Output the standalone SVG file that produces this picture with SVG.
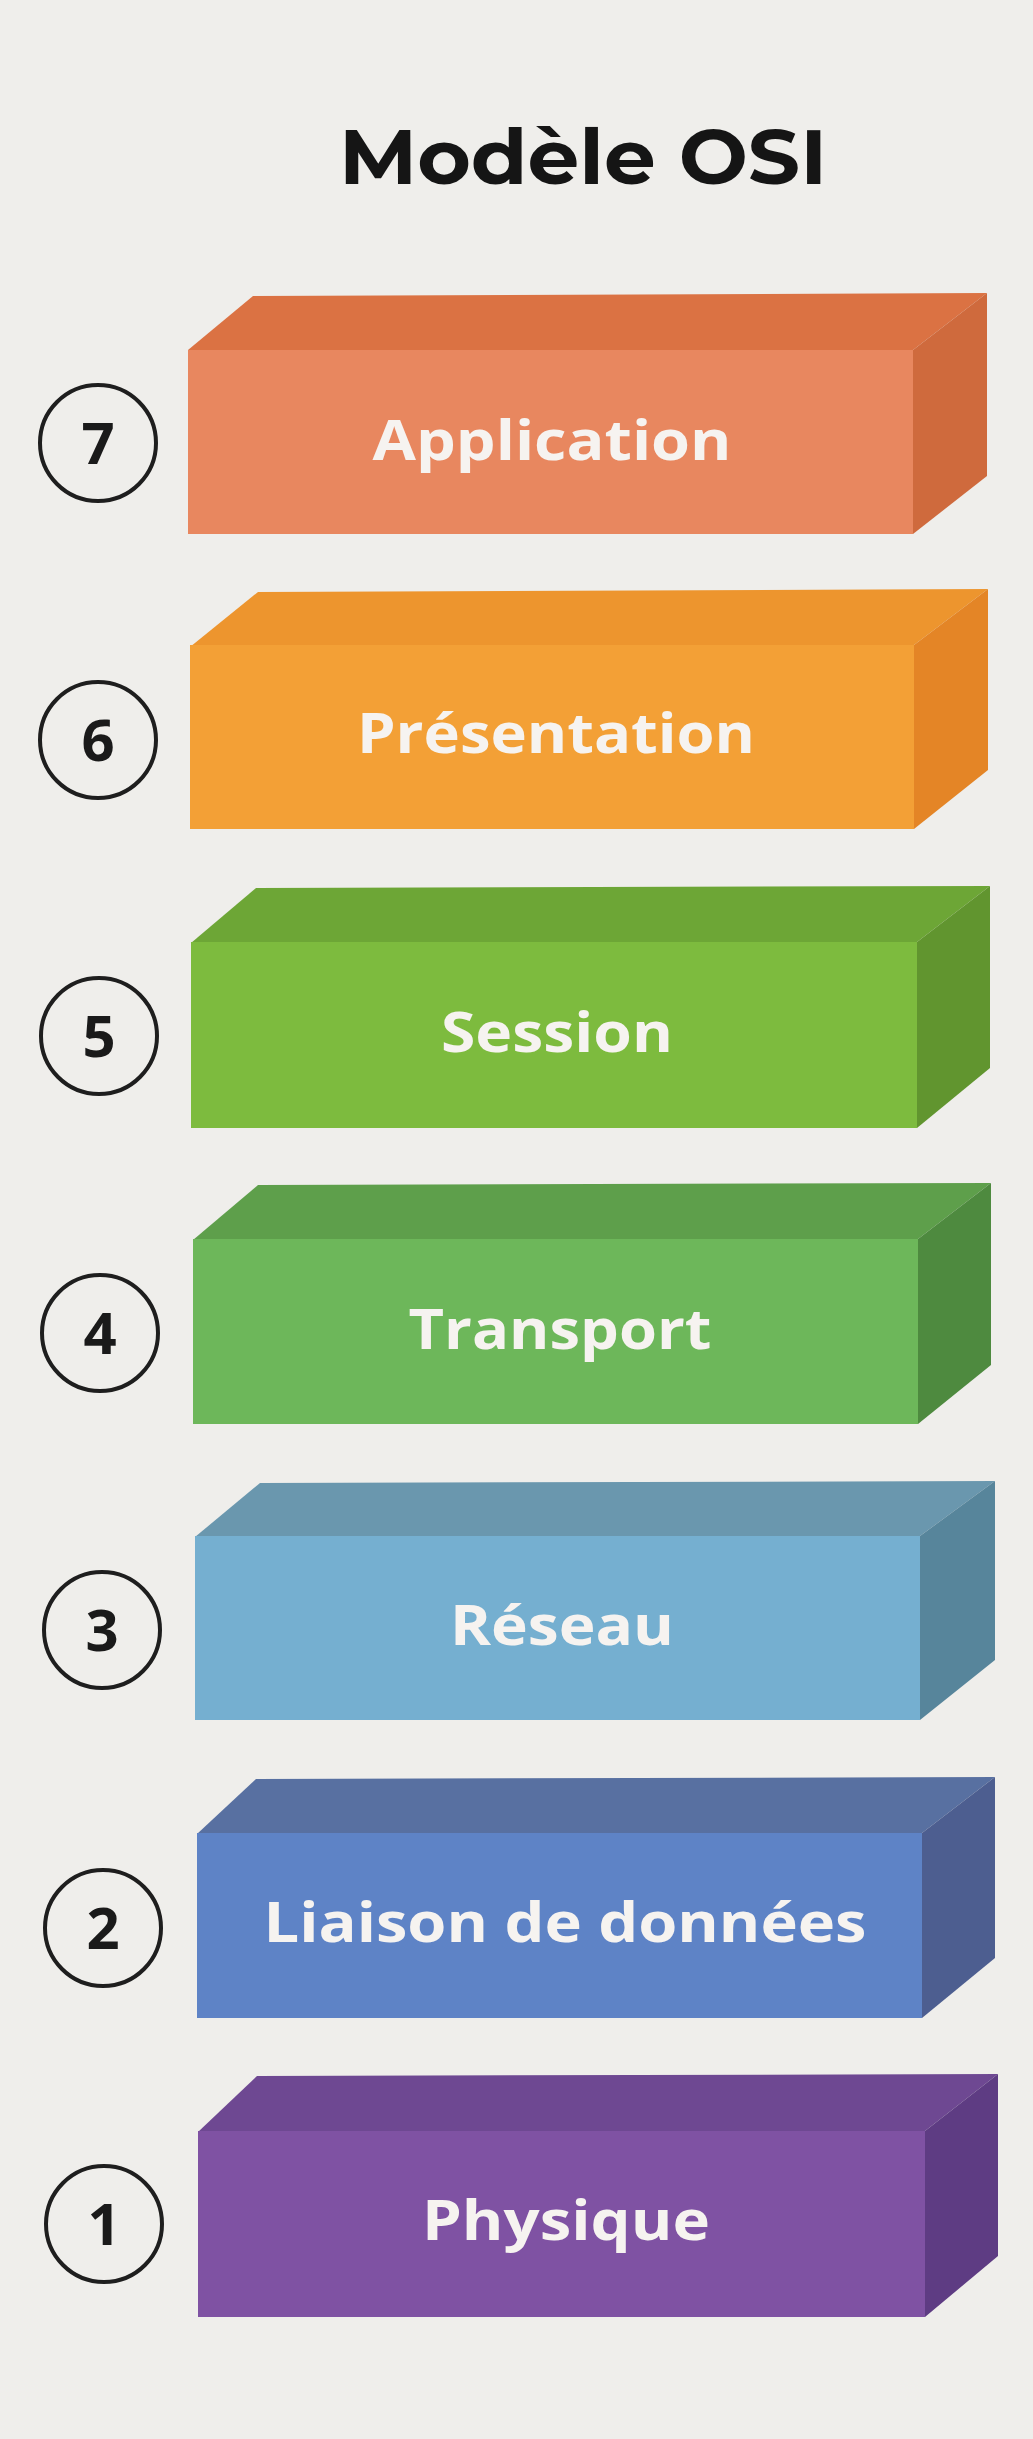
<svg xmlns="http://www.w3.org/2000/svg" width="1033" height="2439" viewBox="0 0 1033 2439">
<style>
.title{font-family:"Montserrat","Open Sans","Liberation Sans",sans-serif;font-weight:700;font-size:76px;fill:#151515;text-anchor:middle}
.lbl{font-family:"Open Sans","Liberation Sans",sans-serif;font-weight:700;font-size:56px;fill:#F6F3F0;text-anchor:middle}
.num{font-family:"Open Sans","Liberation Sans",sans-serif;font-weight:700;font-size:58px;fill:#1a1a1a;text-anchor:middle}
.ring{fill:none;stroke:#1e1e1e;stroke-width:4}
</style>
<rect width="1033" height="2439" fill="#EFEEEB"/>
<text class="title" x="583" y="184" textLength="488" lengthAdjust="spacingAndGlyphs">Modèle OSI</text>

<g id="layer7">
<polygon points="188,350 253,296 987,293 913,350" fill="#DB7243"/>
<polygon points="913,350 987,293 987,476 913,534" fill="#CF6A3D"/>
<rect x="188" y="350" width="725" height="184" fill="#E8875F"/>
<text class="lbl" x="552" y="460" textLength="359" lengthAdjust="spacingAndGlyphs">Application</text>
<circle class="ring" cx="98" cy="443" r="58"/>
<text class="num" x="98" y="464">7</text>
</g>

<g id="layer6">
<polygon points="190,647 258,592 988,589 914,645" fill="#ED952E"/>
<polygon points="914,645 988,589 988,770 914,829" fill="#E48526"/>
<rect x="190" y="645" width="724" height="184" fill="#F3A036"/>
<text class="lbl" x="556" y="753" textLength="398" lengthAdjust="spacingAndGlyphs">Présentation</text>
<circle class="ring" cx="98" cy="740" r="58"/>
<text class="num" x="98" y="761">6</text>
</g>

<g id="layer5">
<polygon points="191,943 256,888 990,886 917,942" fill="#6DA636"/>
<polygon points="917,942 990,886 990,1068 917,1128" fill="#61952F"/>
<rect x="191" y="942" width="726" height="186" fill="#7DBB3E"/>
<text class="lbl" x="557" y="1052" textLength="232" lengthAdjust="spacingAndGlyphs">Session</text>
<circle class="ring" cx="99" cy="1036" r="58"/>
<text class="num" x="99" y="1057">5</text>
</g>

<g id="layer4">
<polygon points="193,1240 258,1185 991,1183 918,1239" fill="#5E9F4B"/>
<polygon points="918,1239 991,1183 991,1365 918,1424" fill="#4E8A3F"/>
<rect x="193" y="1239" width="725" height="185" fill="#6DB75A"/>
<text class="lbl" x="560" y="1349" textLength="303" lengthAdjust="spacingAndGlyphs">Transport</text>
<circle class="ring" cx="100" cy="1333" r="58"/>
<text class="num" x="100" y="1354">4</text>
</g>

<g id="layer3">
<polygon points="195,1537 260,1483 995,1481 920,1536" fill="#6A97AE"/>
<polygon points="920,1536 995,1481 995,1660 920,1720" fill="#57859B"/>
<rect x="195" y="1536" width="725" height="184" fill="#75AFD0"/>
<text class="lbl" x="562" y="1645" textLength="224" lengthAdjust="spacingAndGlyphs">Réseau</text>
<circle class="ring" cx="102" cy="1630" r="58"/>
<text class="num" x="102" y="1651">3</text>
</g>

<g id="layer2">
<polygon points="197,1834 256,1779 995,1777 922,1833" fill="#5870A1"/>
<polygon points="922,1833 995,1777 995,1958 922,2018" fill="#4D5E90"/>
<rect x="197" y="1833" width="725" height="185" fill="#5E83C6"/>
<text class="lbl" x="565" y="1942" textLength="603" lengthAdjust="spacingAndGlyphs">Liaison de données</text>
<circle class="ring" cx="103" cy="1928" r="58"/>
<text class="num" x="103" y="1949">2</text>
</g>

<g id="layer1">
<polygon points="198,2132 257,2076 998,2074 925,2131" fill="#6E4892"/>
<polygon points="925,2131 998,2074 998,2256 925,2317" fill="#5E3C83"/>
<rect x="198" y="2131" width="727" height="186" fill="#7F52A3"/>
<text class="lbl" x="566" y="2240" textLength="288" lengthAdjust="spacingAndGlyphs">Physique</text>
<circle class="ring" cx="104" cy="2224" r="58"/>
<text class="num" x="104" y="2245">1</text>
</g>

<g id="connectors"></g>
</svg>
